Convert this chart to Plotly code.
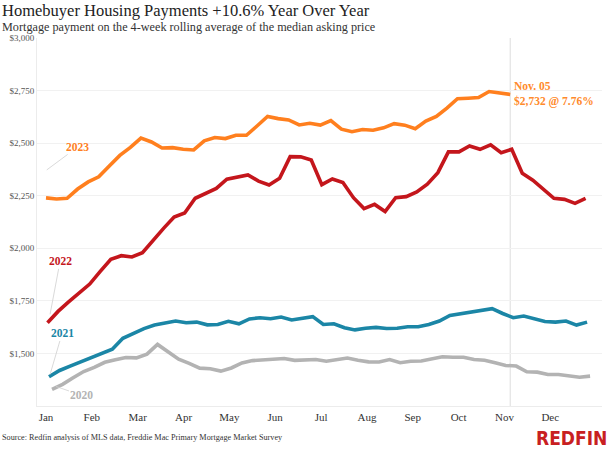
import datetime as dt
import plotly.graph_objects as go

# ---- data (weekly mortgage payment, $) ----
start_2020 = "2020-01-05"
vals_2020 = [1329, 1353, 1384, 1414, 1434, 1458, 1470, 1481, 1479, 1497, 1543, 1507, 1473,
             1453, 1430, 1427, 1416, 1431, 1455, 1466, 1468, 1471, 1476, 1467, 1467, 1471,
             1463, 1471, 1478, 1468, 1460, 1459, 1471, 1456, 1463, 1464, 1475, 1484, 1482,
             1482, 1471, 1468, 1456, 1443, 1440, 1413, 1411, 1400, 1400, 1395, 1387, 1392]

start_2021 = "2021-01-03"
vals_2021 = [1389, 1419, 1440, 1460, 1483, 1500, 1520, 1572, 1596, 1618, 1635, 1645, 1654,
             1646, 1649, 1636, 1638, 1653, 1641, 1664, 1670, 1665, 1673, 1659, 1667, 1675,
             1638, 1641, 1622, 1612, 1620, 1624, 1619, 1620, 1627, 1627, 1638, 1654, 1681,
             1690, 1698, 1705, 1713, 1690, 1670, 1678, 1665, 1652, 1649, 1654, 1635, 1649]

start_2022 = "2022-01-02"
vals_2022 = [1646, 1700, 1745, 1789, 1830, 1890, 1948, 1965, 1959, 1979, 2038, 2095, 2149,
             2168, 2238, 2260, 2285, 2329, 2341, 2349, 2320, 2301, 2333, 2436, 2435, 2420,
             2303, 2330, 2313, 2241, 2189, 2209, 2175, 2241, 2246, 2268, 2305, 2360, 2459,
             2459, 2487, 2471, 2492, 2455, 2471, 2357, 2324, 2281, 2238, 2233, 2214, 2238]

start_2023 = "2023-01-01"
vals_2023 = [2240, 2235, 2238, 2282, 2316, 2340, 2392, 2442, 2480, 2524, 2506, 2477, 2479,
             2471, 2468, 2511, 2527, 2522, 2538, 2538, 2582, 2627, 2617, 2611, 2587, 2595,
             2586, 2608, 2567, 2555, 2565, 2562, 2573, 2593, 2586, 2569, 2605, 2627, 2667,
             2712, 2714, 2717, 2746, 2738, 2732]

month_labels = ["Jan", "Feb", "Mar", "Apr", "May", "Jun",
                "Jul", "Aug", "Sep", "Oct", "Nov", "Dec"]
y_ticks = [1500, 1750, 2000, 2250, 2500, 2750, 3000]
y_tick_labels = ["$1,500", "$1,750", "$2,000", "$2,250", "$2,500", "$2,750", "$3,000"]

series = [
    ("2020", start_2020, vals_2020, "#b3b3b3"),
    ("2021", start_2021, vals_2021, "#1b86a6"),
    ("2022", start_2022, vals_2022, "#c4161c"),
    ("2023", start_2023, vals_2023, "#ff7f1e"),
]

BASE = dt.datetime(2023, 1, 1)


def aligned_dates(start, n):
    d0 = dt.datetime.fromisoformat(start)
    jan1 = dt.datetime(d0.year, 1, 1)
    return [BASE + (d0 + dt.timedelta(days=7 * i) - jan1) for i in range(n)]


fig = go.Figure()
for name, start, vals, color in series:
    fig.add_trace(go.Scatter(
        x=aligned_dates(start, len(vals)), y=vals, mode="lines", name=name,
        line=dict(color=color, width=3.6), hoverinfo="skip", showlegend=False))

serif = "Liberation Serif, Times New Roman, serif"

tickvals = [BASE + dt.timedelta(days=k * 365 / 12) for k in range(12)]
last_date = aligned_dates(start_2023, len(vals_2023))[-1]

fig.add_shape(type="line", xref="x", yref="paper", x0=last_date, x1=last_date,
              y0=0, y1=1, line=dict(color="#dddddd", width=1), layer="below")


def day(n):
    return BASE + dt.timedelta(days=n)


labels = [
    ("2023", "#ff7f1e", day(0.5), 2373, 31, -23),
    ("2022", "#c4161c", day(2.7), 1686, 10, -53),
    ("2021", "#1b86a6", day(2.7), 1400, 12, -41),
    ("2020", "#b3b3b3", day(6.6), 1343, 26, 9),
]
for txt, col, xx, yy, ax, ay in labels:
    fig.add_annotation(x=xx, y=yy, ax=ax, ay=ay, axref="pixel", ayref="pixel",
                       text="<b>%s</b>" % txt, showarrow=True, arrowhead=0,
                       arrowwidth=0.8, arrowcolor="#cfcfcf",
                       font=dict(family=serif, size=11.5, color=col))

fig.add_annotation(x=last_date, y=vals_2023[-1], xanchor="left", yanchor="middle",
                   xshift=2, align="left", showarrow=False,
                   text="<b>Nov. 05</b><br><b>$2,732 @ 7.76%</b>",
                   font=dict(family=serif, size=11.5, color="#ff8a2b"))

fig.add_annotation(xref="paper", yref="paper", x=-0.0655, y=1.0755, xanchor="left",
                   yanchor="middle", showarrow=False,
                   text="Homebuyer Housing Payments +10.6% Year Over Year",
                   font=dict(family=serif, size=16.5, color="#222222"))

fig.add_annotation(xref="paper", yref="paper", x=-0.0655, y=1.031, xanchor="left",
                   yanchor="middle", showarrow=False,
                   text="Mortgage payment on the 4-week rolling average of the median asking price",
                   font=dict(family=serif, size=12.2, color="#333333"))

fig.add_annotation(xref="paper", yref="paper", x=-0.066, y=-0.0865, xanchor="left",
                   yanchor="middle", showarrow=False,
                   text="Source: Redfin analysis of MLS data, Freddie Mac Primary Mortgage Market Survey",
                   font=dict(family=serif, size=8.2, color="#333333"))

fig.add_annotation(xref="paper", yref="paper", x=1.012, y=-0.088, xanchor="right",
                   yanchor="middle", showarrow=False,
                   text="<b>REDFIN</b>",
                   font=dict(family="DejaVu Sans Condensed, Liberation Sans Narrow, sans-serif",
                             size=19, color="#c82021"))

fig.update_layout(
    width=610, height=454,
    margin=dict(l=37, r=8, t=38, b=48, autoexpand=False),
    paper_bgcolor="white", plot_bgcolor="white",
    showlegend=False,
    xaxis=dict(type="date", automargin=False,
               range=[BASE - dt.timedelta(days=5.97), BASE + dt.timedelta(days=368.9)],
               tickvals=tickvals, ticktext=month_labels, showgrid=False,
               showline=True, linecolor="#ececec", linewidth=1, ticks="",
               ticklabelstandoff=1,
               tickfont=dict(family=serif, size=11, color="#333333"), zeroline=False),
    yaxis=dict(range=[1250, 3000.5], tickvals=y_ticks, ticktext=y_tick_labels,
               automargin=False,
               showgrid=True, gridcolor="#f1f1f1", gridwidth=1,
               showline=True, linecolor="#ececec", linewidth=1, ticks="",
               tickfont=dict(family=serif, size=9, color="#555555"), zeroline=False),
)

fig.write_html("out.html", config={"displayModeBar": False},
               post_script="document.body.style.margin='0px';document.body.style.padding='0px';")
